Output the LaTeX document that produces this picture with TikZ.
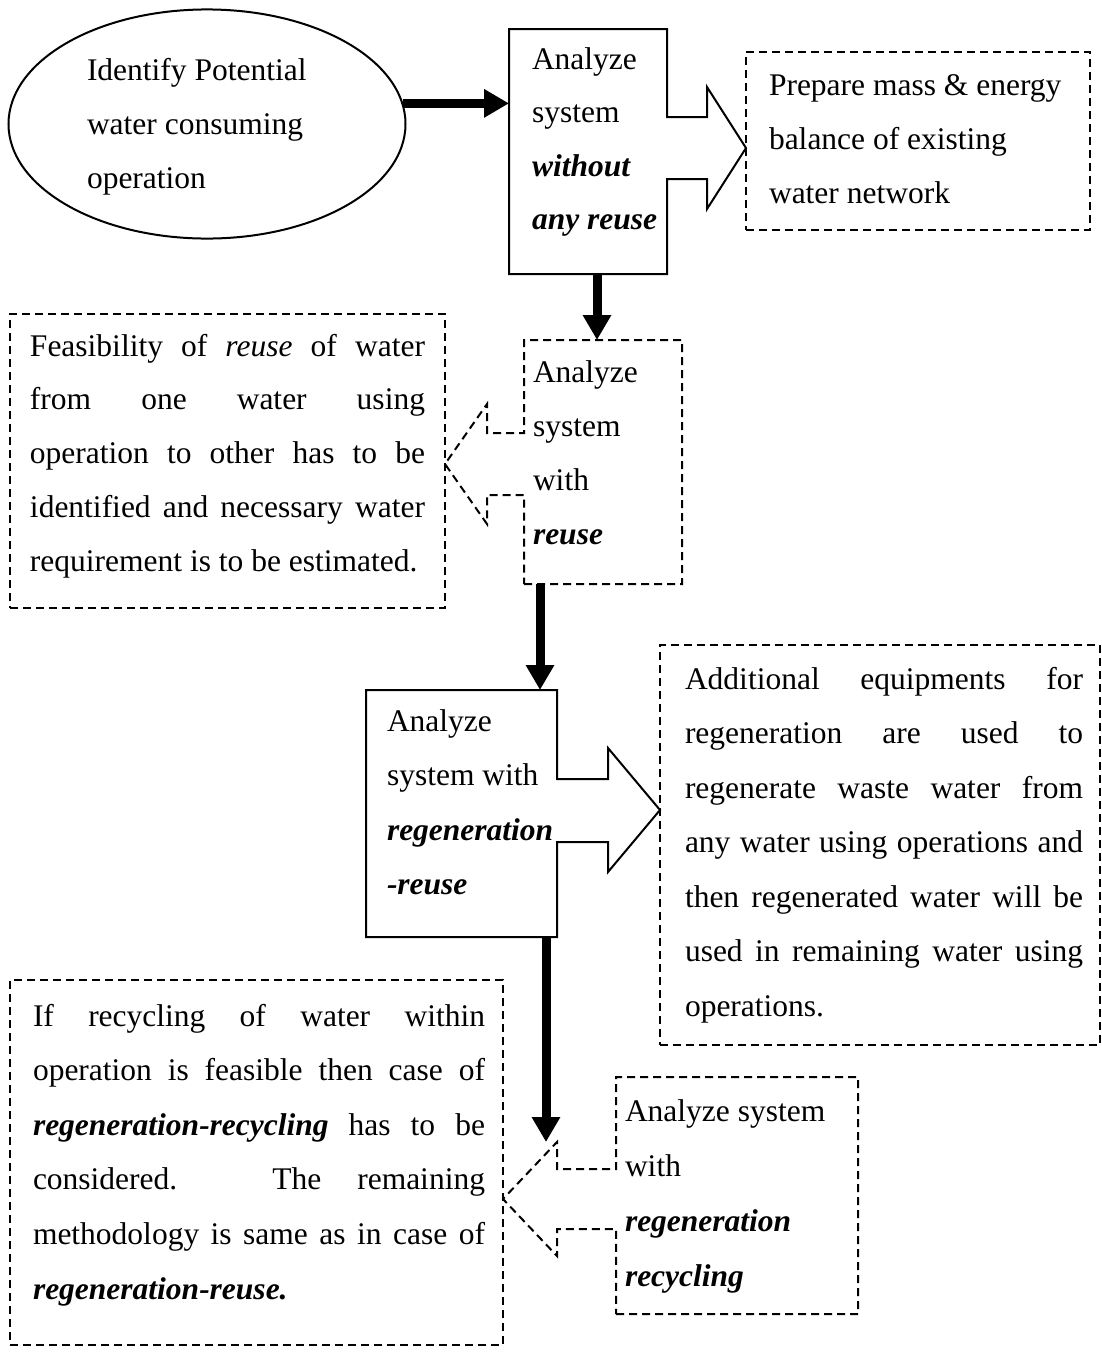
\documentclass[tikz,border=0pt]{standalone}
\usepackage{fontspec}
\setmainfont{Liberation Serif}
\usetikzlibrary{arrows.meta,calc,shapes.geometric}

% bold italic emphasis
\newcommand\bi[1]{\textbf{\textit{#1}}}
% a line spread to the full text width
\newcommand\jl[1]{\makebox[\dimexpr\hsize-\leftskip-\rightskip\relax][s]{#1}}
% text block of a box: width, height, left pad, right pad, first baseline, line distance, lines
\newcommand\framedtext[7]{\parbox[c][#2][t]{#1}{\leftskip=#3\rightskip=#4\relax
  \baselineskip=#6\relax
  \vspace*{\dimexpr#5-\ht\strutbox\relax}\strut#7\strut}}

\tikzset{
  every node/.style={font=\fontsize{31.5pt}{54pt}\selectfont},
  plain/.style={line width=2pt},
  dashline/.style={line width=2pt, dash pattern=on 8pt off 5pt},
  framebox/.style={inner sep=0pt, outer sep=0pt, anchor=north west},
  bigarrow/.style={line width=9pt, -{Triangle[length=25pt,width=27pt]}},
}

\begin{document}
\begin{tikzpicture}[x=1pt,y=-1pt]
\fill[white] (0,0) rectangle (1102,1353);
\useasboundingbox (0,0) rectangle (1102,1353);

% starting step
\node[plain, draw, ellipse, minimum width=397pt, minimum height=208pt, inner sep=0pt] (e) at (207,124)
  {\parbox{240pt}{\strut Identify Potential\\water consuming\\operation\strut}};

% analysis steps (outlines drawn below together with their arrows)
\node[framebox] (b1) at (509,29)
  {\framedtext{158pt}{245pt}{23pt}{0pt}{40pt}{53.5pt}{Analyze\\system\\\bi{without}\\\bi{any reuse}}};
\node[framebox] (b2) at (524,340)
  {\framedtext{158pt}{244pt}{9pt}{0pt}{42pt}{54pt}{Analyze\\system\\with\\\bi{reuse}}};
\node[framebox] (b3) at (366,690)
  {\framedtext{191pt}{247pt}{21pt}{0pt}{41pt}{54.6pt}{Analyze\\system with\\\bi{regeneration}\\\bi{-reuse}}};
\node[framebox] (b4) at (616,1077)
  {\framedtext{242pt}{237pt}{9pt}{0pt}{44pt}{55pt}{Analyze system\\with\\\bi{regeneration}\\\bi{recycling}}};

% explanatory notes
\node[framebox, dashline, draw] (prep) at (746,52)
  {\framedtext{344pt}{178pt}{23pt}{0pt}{43pt}{54pt}{Prepare mass \& energy\\balance of existing\\water network}};
\node[framebox, dashline, draw] (feas) at (10,314)
  {\framedtext{435pt}{294pt}{20pt}{20pt}{42pt}{53.8pt}{%
    \jl{Feasibility of \textit{reuse} of water}\\
    \jl{from one water using}\\
    \jl{operation to other has to be}\\
    \jl{identified and necessary water}\\
    requirement is to be estimated.}};
\node[framebox, dashline, draw] (add) at (660,645)
  {\framedtext{440pt}{400pt}{25pt}{17pt}{44pt}{54.5pt}{%
    \jl{Additional equipments for}\\
    \jl{regeneration are used to}\\
    \jl{regenerate waste water from}\\
    \jl{any water using operations and}\\
    \jl{then regenerated water will be}\\
    \jl{used in remaining water using}\\
    operations.}};
\node[framebox, dashline, draw] (ifrec) at (10,980)
  {\framedtext{493pt}{365pt}{23pt}{18pt}{46pt}{54.6pt}{%
    \jl{If recycling of water within}\\
    \jl{operation is feasible then case of}\\
    \jl{\bi{regeneration-recycling} has to be}\\
    \jl{considered. The remaining}\\
    \jl{methodology is same as in case of}\\
    \bi{regeneration-reuse.}}};

% arrow axes of the box-and-arrow outlines
\coordinate (a1) at ($(b1.north east)+(0,119)$);
\coordinate (a2) at ($(b2.north west)+(0,124)$);
\coordinate (a3) at ($(b3.north east)+(0,120)$);
\coordinate (a4) at ($(b4.north west)+(0,122)$);
\coordinate (h4) at ($(a4)+(-59,-57)$);

% box outlines merged with their block arrows
\draw[plain] (b1.south east) -- (b1.south west) -- (b1.north west) -- (b1.north east)
  -- ($(a1)+(0,-31)$) -- ($(a1)+(40,-31)$) -- ($(a1)+(40,-61)$) -- (a1 -| prep.west)
  -- ($(a1)+(40,61)$) -- ($(a1)+(40,31)$) -- ($(a1)+(0,31)$) -- cycle;
\draw[dashline] (b2.south west) -- (b2.south east) -- (b2.north east) -- (b2.north west)
  -- ($(a2)+(0,-31)$) -- ($(a2)+(-37,-31)$) -- ($(a2)+(-37,-60)$) -- (a2 -| feas.east)
  -- ($(a2)+(-37,60)$) -- ($(a2)+(-37,31)$) -- ($(a2)+(0,31)$) -- cycle;
\draw[plain] (b3.south east) -- (b3.south west) -- (b3.north west) -- (b3.north east)
  -- ($(a3)+(0,-31)$) -- ($(a3)+(51,-31)$) -- ($(a3)+(51,-62)$) -- (a3 -| add.west)
  -- ($(a3)+(51,62)$) -- ($(a3)+(51,32)$) -- ($(a3)+(0,32)$) -- cycle;
\draw[dashline] (b4.south west) -- (b4.south east) -- (b4.north east) -- (b4.north west)
  -- ($(a4)+(0,-30)$) -- ($(a4)+(-59,-30)$) -- (h4) -- (a4 -| ifrec.east)
  -- ($(a4)+(-59,57)$) -- ($(a4)+(-59,30)$) -- ($(a4)+(0,30)$) -- cycle;

% main flow
\coordinate (x2) at (597,0);
\coordinate (x3) at (540,0);
\coordinate (x4) at (546,0);
\draw[bigarrow] (e.6) -- (e.6 -| b1.west);
\draw[bigarrow] (b1.south -| x2) -- (b2.north -| x2);
\draw[bigarrow] (b2.south -| x3) -- (b3.north -| x3);
\draw[bigarrow] (b3.south -| x4) -- (h4 -| x4);
\end{tikzpicture}
\end{document}
